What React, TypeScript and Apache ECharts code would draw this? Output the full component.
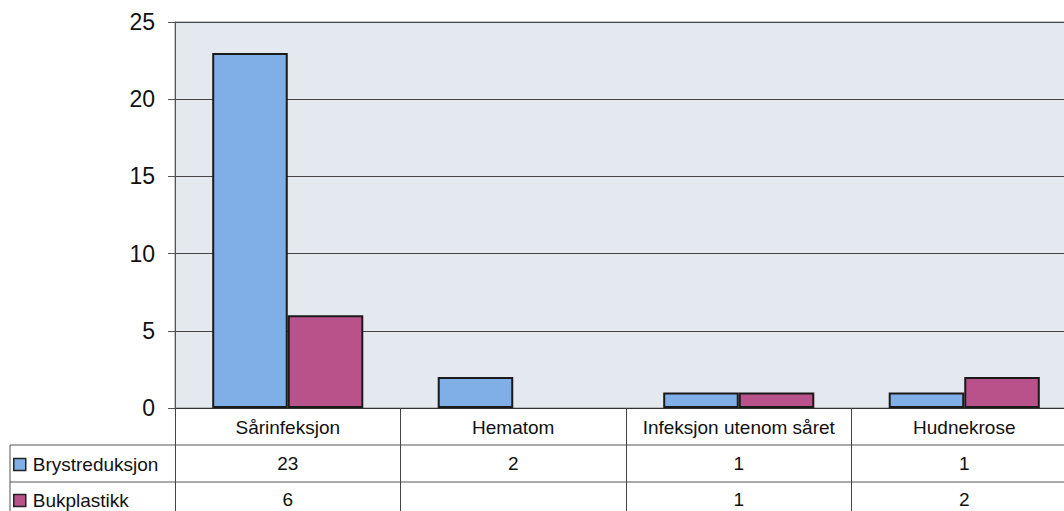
import React, { useEffect, useRef } from "react";
import * as echarts from "echarts";

const categories = ["Sårinfeksjon", "Hematom", "Infeksjon utenom såret", "Hudnekrose"];
const seriesNames = ["Brystreduksjon", "Bukplastikk"];
const brystreduksjon: (number | null)[] = [23, 2, 1, 1];
const bukplastikk: (number | null)[] = [6, null, 1, 2];
const yTicks = [0, 5, 10, 15, 20, 25];

const FONT = "Liberation Sans, Arial, sans-serif";

export default function App() {
  const ref = useRef<HTMLDivElement>(null);
  useEffect(() => {
    document.body.style.margin = "0";
    const chart = echarts.init(ref.current!, null, { renderer: "svg" });
    const gridLeft = 175;
    const gridTop = 22;
    const gridBottom = 103;
    const catW = 225.5;
    const valueLabels = (arr: (number | null)[]) => arr.map((v) => (v == null ? "" : String(v)));
    const legendBase = {
      orient: "horizontal",
      left: 11,
      padding: 2,
      itemWidth: 12,
      itemHeight: 12,
      icon: "rect",
      selectedMode: false,
      itemStyle: { borderColor: "#222", borderWidth: 1.5 },
      textStyle: { fontSize: 19, color: "#111", fontFamily: FONT, padding: [0, 0, 0, 2] },
    };
    chart.setOption({
      animation: false,
      backgroundColor: "#ffffff",
      textStyle: { fontFamily: FONT },
      grid: {
        left: gridLeft,
        top: gridTop,
        bottom: gridBottom,
        width: catW * categories.length,
        outerBoundsMode: "none",
        containLabel: false,
        show: true,
        backgroundColor: "#e4e8ef",
        borderColor: "#8a8a8a",
        borderWidth: 1,
      },
      legend: [
        { ...legendBase, top: 453, data: [seriesNames[0]] },
        { ...legendBase, top: 489, data: [seriesNames[1]] },
      ],
      xAxis: [
        {
          type: "category",
          data: categories,
          position: "bottom",
          axisLine: { show: true, lineStyle: { color: "#333", width: 1 } },
          axisTick: { show: true, interval: 0, length: 110, lineStyle: { color: "#444", width: 1 } },
          axisLabel: { fontSize: 19, color: "#111", margin: 10, fontFamily: FONT, interval: 0 },
        },
        {
          type: "category",
          data: valueLabels(brystreduksjon),
          position: "bottom",
          offset: 37,
          axisLine: { show: false },
          axisTick: { show: false },
          axisLabel: { fontSize: 19, color: "#111", margin: 9, fontFamily: FONT, interval: 0 },
        },
        {
          type: "category",
          data: valueLabels(bukplastikk),
          position: "bottom",
          offset: 73,
          axisLine: { show: false },
          axisTick: { show: false },
          axisLabel: { fontSize: 19, color: "#111", margin: 9, fontFamily: FONT, interval: 0 },
        },
      ],
      yAxis: {
        type: "value",
        min: yTicks[0],
        max: yTicks[yTicks.length - 1],
        interval: 5,
        axisLine: { show: true, lineStyle: { color: "#555", width: 1 } },
        axisTick: { show: true, length: 7, lineStyle: { color: "#555" } },
        axisLabel: { fontSize: 23, color: "#111", margin: 20, fontFamily: FONT },
        splitLine: { show: true, lineStyle: { color: "#444", width: 1 } },
      },
      series: [
        {
          name: seriesNames[0],
          type: "bar",
          data: brystreduksjon,
          barGap: "0%",
          barCategoryGap: "33%",
          itemStyle: { color: "#80aee6", borderColor: "#1a1a1a", borderWidth: 2 },
        },
        {
          name: seriesNames[1],
          type: "bar",
          data: bukplastikk,
          itemStyle: { color: "#b9528a", borderColor: "#1a1a1a", borderWidth: 2 },
        },
      ],
      graphic: [
        { type: "line", shape: { x1: 10, y1: 445, x2: 1064, y2: 445 }, style: { stroke: "#555", lineWidth: 1 } },
        { type: "line", shape: { x1: 10, y1: 482, x2: 1064, y2: 482 }, style: { stroke: "#555", lineWidth: 1 } },
        { type: "line", shape: { x1: 10, y1: 445, x2: 10, y2: 511 }, style: { stroke: "#555", lineWidth: 1 } },
      ],
    });
    return () => chart.dispose();
  }, []);
  return <div ref={ref} style={{ width: 1064, height: 511 }} />;
}
